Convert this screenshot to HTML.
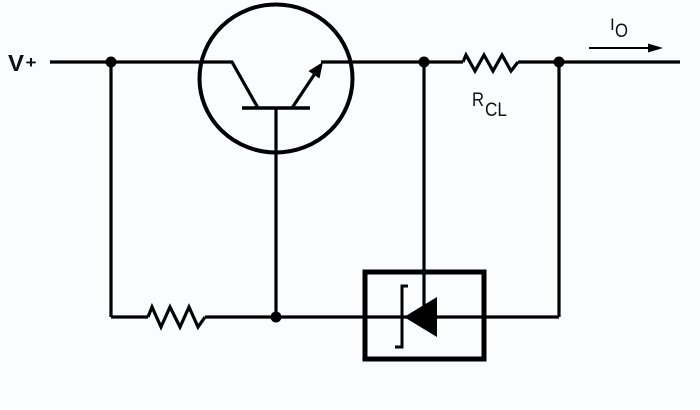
<!DOCTYPE html>
<html>
<head>
<meta charset="utf-8">
<style>
  html,body{margin:0;padding:0;background:#fbfcfd;}
  svg{display:block;}
  text{font-family:"Liberation Sans",sans-serif;fill:#111;}
</style>
</head>
<body>
<svg width="700" height="410" viewBox="0 0 700 410" xmlns="http://www.w3.org/2000/svg">
  <rect width="700" height="410" fill="#fbfcfd"/>
  <g stroke="#000" stroke-width="3.2" fill="none" stroke-linejoin="miter" stroke-linecap="butt">
    <!-- top wire left to collector -->
    <polyline points="50,62 232,62 258,108"/>
    <!-- emitter -->
    <line x1="292" y1="108" x2="318" y2="69"/>
    <line x1="321" y1="62" x2="463" y2="62"/>
    <!-- RCL resistor -->
    <polyline points="463,62 466,55 475,71 484,55 493,71 502,55 511,71 518,62"/>
    <line x1="518" y1="62" x2="680" y2="62"/>
    <!-- transistor circle -->
    <ellipse cx="276" cy="78.5" rx="76.5" ry="74" stroke-width="4"/>
    <!-- base bar -->
    <line x1="242" y1="108" x2="310" y2="108" stroke-width="3.5"/>
    <!-- base lead -->
    <line x1="276" y1="108" x2="276" y2="317"/>
    <!-- left vertical -->
    <line x1="111" y1="62" x2="111" y2="317"/>
    <!-- bottom wire -->
    <line x1="111" y1="317" x2="148" y2="317"/>
    <polyline points="148,317 152,307 161,327 170,307 180,327 189,307 198,327 205,317"/>
    <line x1="205" y1="317" x2="559" y2="317"/>
    <!-- right vertical -->
    <line x1="559" y1="62" x2="559" y2="317"/>
    <!-- middle vertical to diode -->
    <line x1="424" y1="62" x2="424" y2="317"/>
    <!-- box -->
    <rect x="365" y="272" width="119" height="87" stroke-width="5"/>
    <!-- zener bar -->
    <polyline points="408,286 402,286 402,347 395,347" stroke-width="3"/>
    <!-- I0 arrow line -->
    <line x1="589" y1="48" x2="652" y2="48" stroke-width="2"/>
  </g>
  <!-- emitter arrowhead -->
  <polygon points="323,62 319.5,78.5 308.5,71" fill="#000"/>
  <!-- diode triangle -->
  <polygon points="404,317 437,297 437,337" fill="#000"/>
  <!-- I0 arrowhead -->
  <polygon points="663,48 648,43.5 648,52.5" fill="#000"/>
  <!-- nodes -->
  <g fill="#000">
    <circle cx="111" cy="62" r="5.5"/>
    <circle cx="424" cy="62" r="5.5"/>
    <circle cx="559" cy="62" r="5.5"/>
    <circle cx="276" cy="317" r="5.5"/>
  </g>
  <!-- labels -->
  <text x="8" y="71" font-size="23" font-weight="bold" textLength="16" lengthAdjust="spacingAndGlyphs">V</text>
  <text x="25.5" y="68" font-size="17" font-weight="bold" textLength="11" lengthAdjust="spacingAndGlyphs">+</text>
  <text x="472" y="106" font-size="19" textLength="12" lengthAdjust="spacingAndGlyphs">R</text>
  <text x="485" y="116" font-size="19" textLength="22" lengthAdjust="spacingAndGlyphs">CL</text>
  <text x="610" y="30" font-size="17">I</text>
  <text x="615" y="37" font-size="19" textLength="13" lengthAdjust="spacingAndGlyphs">O</text>
</svg>
</body>
</html>
